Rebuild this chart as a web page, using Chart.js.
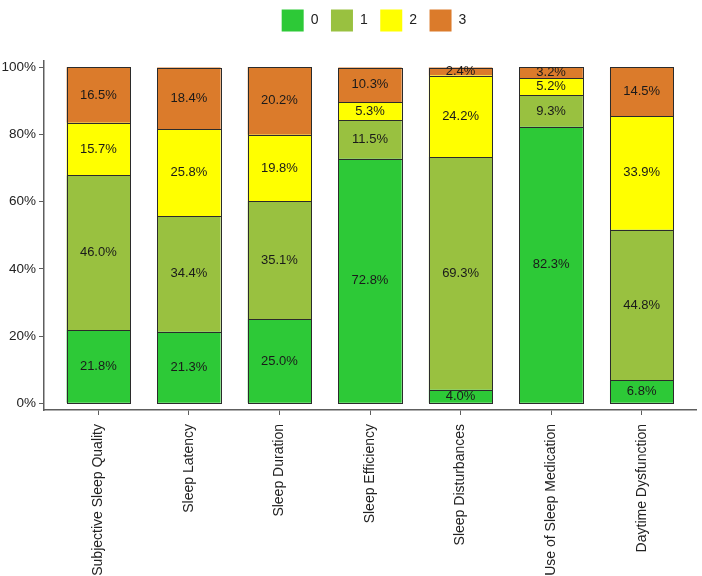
<!DOCTYPE html>
<html>
<head>
<meta charset="utf-8">
<script src="https://cdn.jsdelivr.net/npm/chart.js@4.4.1/dist/chart.umd.min.js"></script>
<style>
  html, body { margin: 0; padding: 0; background: #fff; }
  #wrap { width: 702px; height: 576px; }
</style>
</head>
<body>
<div id="wrap"><canvas id="sleepChart"></canvas></div>
<script>
const categories = ['Subjective Sleep Quality', 'Sleep Latency', 'Sleep Duration', 'Sleep Efficiency',
    'Sleep Disturbances', 'Use of Sleep Medication', 'Daytime Dysfunction'];
const score0 = [21.8, 21.3, 25.0, 72.8, 4.0, 82.3, 6.8];
const score1 = [46.0, 34.4, 35.1, 11.5, 69.3, 9.3, 44.8];
const score2 = [15.7, 25.8, 19.8, 5.3, 24.2, 5.2, 33.9];
const score3 = [16.5, 18.4, 20.2, 10.3, 2.4, 3.2, 14.5];
const seriesNames = ['0', '1', '2', '3'];
const seriesColors = ['#2dc937', '#99c140', '#ffff00', '#db7b2b'];
const yTicks = [0, 20, 40, 60, 80, 100];

const axisGray = '#5e5e5e';
const font = 'Liberation Sans, Arial, Helvetica, sans-serif';

// crisp outlines + percentage text on every segment
const segmentLabels = {
    id: 'segmentLabels',
    afterDatasetsDraw(chart) {
        const ctx = chart.ctx;
        ctx.save();
        ctx.strokeStyle = '#2b2b2b';
        ctx.lineWidth = 1;
        chart.data.datasets.forEach((ds, di) => {
            chart.getDatasetMeta(di).data.forEach(bar => {
                const x0 = Math.round(bar.x - bar.width / 2) + 0.5;
                const x1 = Math.round(bar.x + bar.width / 2) + 0.5;
                const y0 = Math.round(bar.y) + 0.5;
                const y1 = Math.round(bar.base) + 0.5;
                ctx.strokeRect(x0, y0, x1 - x0, y1 - y0);
            });
        });
        ctx.font = '13px ' + font;
        ctx.fillStyle = '#1a1a1a';
        ctx.textAlign = 'center';
        ctx.textBaseline = 'middle';
        chart.data.datasets.forEach((ds, di) => {
            chart.getDatasetMeta(di).data.forEach((bar, i) => {
                const v = ds.data[i].y;
                ctx.fillText(v.toFixed(1) + '%', bar.x, (bar.y + bar.base) / 2);
            });
        });
        ctx.restore();
    }
};

// legend sits a bit right of centre and higher up in the original
const legendNudge = {
    id: 'legendNudge',
    afterLayout(chart) {
        const lg = chart.legend;
        lg.left += 26; lg.right += 26;
        lg.top -= 19; lg.bottom -= 19;
    }
};

const sets = [score0, score1, score2, score3].map((vals, k) => ({
    label: seriesNames[k],
    data: vals.map((v, i) => ({ x: i + 1, y: v })),
    backgroundColor: seriesColors[k],
    borderWidth: 0,
    inflateAmount: 0,
    categoryPercentage: 1,
    barPercentage: 0.7
}));

new Chart(document.getElementById('sleepChart'), {
    type: 'bar',
    data: { datasets: sets },
    plugins: [segmentLabels, legendNudge],
    options: {
        responsive: true,
        maintainAspectRatio: false,
        animation: false,
        layout: { padding: { top: 16, right: 6, left: 0, bottom: 0 } },
        plugins: {
            legend: {
                position: 'top',
                labels: {
                    boxWidth: 22,
                    boxHeight: 22,
                    padding: 12.5,
                    color: '#222',
                    font: { family: font, size: 14 }
                }
            },
            tooltip: { enabled: false }
        },
        scales: {
            x: {
                type: 'linear',
                stacked: true,
                offset: false,
                min: 0.4,
                max: 7.6,
                afterBuildTicks: s => { s.ticks = categories.map((c, i) => ({ value: i + 1 })); },
                afterFit: s => { s.height = 166; },
                grid: { display: true, offset: false, drawOnChartArea: false, drawTicks: true, tickLength: 5, color: axisGray },
                border: { display: true, color: axisGray, width: 1.5 },
                ticks: {
                    minRotation: 90,
                    maxRotation: 90,
                    padding: 9,
                    autoSkip: false,
                    color: '#222',
                    font: { family: font, size: 14 },
                    callback: v => categories[v - 1]
                }
            },
            y: {
                stacked: true,
                min: -2,
                max: 102,
                afterBuildTicks: s => { s.ticks = yTicks.map(v => ({ value: v })); },
                afterFit: s => { s.width = 44; },
                grid: { display: true, drawOnChartArea: false, drawTicks: true, tickLength: 5, color: axisGray },
                border: { display: true, color: axisGray, width: 1.5 },
                ticks: {
                    padding: 3,
                    color: '#222',
                    font: { family: font, size: 13.5 },
                    callback: v => v + '%'
                }
            }
        }
    }
});
</script>
</body>
</html>
